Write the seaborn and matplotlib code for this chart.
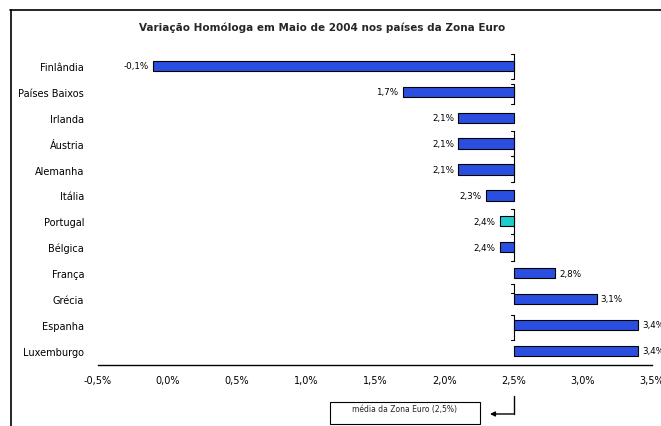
import matplotlib
matplotlib.use('Agg')
import matplotlib.pyplot as plt
import seaborn as sns
from matplotlib.lines import Line2D
from matplotlib.patches import Rectangle

countries = ['Finlândia', 'Países Baixos', 'Irlanda', 'Áustria', 'Alemanha', 'Itália',
             'Portugal', 'Bélgica', 'França', 'Grécia', 'Espanha', 'Luxemburgo']
values = [-0.1, 1.7, 2.1, 2.1, 2.1, 2.3, 2.4, 2.4, 2.8, 3.1, 3.4, 3.4]
euro_avg = 2.5
ticks = [-0.5, 0.0, 0.5, 1.0, 1.5, 2.0, 2.5, 3.0, 3.5]

sns.set_style('white')
plt.rcParams['font.family'] = ['DejaVu Sans']

fig = plt.figure(figsize=(6.61, 4.27), dpi=100)
ax = fig.add_axes([98 / 661, 1 - 366 / 427, 554 / 661, 312 / 427])

diffs = [v - euro_avg for v in values]
colors = ['#1fcccc' if c == 'Portugal' else '#2a4fe0' for c in countries]
sns.barplot(x=diffs, y=countries, hue=countries, palette=colors, legend=False,
            saturation=1, orient='h', width=0.4, edgecolor='black', linewidth=0.8,
            ax=ax, zorder=3)
# move bars so that they start at the euro zone average
for p in ax.patches:
    p.set_x(p.get_x() + euro_avg)

# bracket segments on the average line
segs = [(-0.46, 0.5), (0.7, 1.47), (2.52, 3.49), (3.49, 4.49), (5.54, 6.5),
        (6.5, 7.55), (8.44, 8.75), (9.6, 10.57)]
for a, b in segs:
    ax.plot([euro_avg, euro_avg], [a, b], color='black', lw=0.8, zorder=2)
    ax.plot([euro_avg - 0.02, euro_avg], [a, a], color='black', lw=0.8, zorder=2)
    ax.plot([euro_avg - 0.02, euro_avg], [b, b], color='black', lw=0.8, zorder=2)

for i, v in enumerate(values):
    lab = f'{v:.1f}%'.replace('.', ',')
    if v < euro_avg:
        ax.text(v - 0.03, i, lab, ha='right', va='center', fontsize=6.3, color='black')
    else:
        ax.text(v + 0.03, i, lab, ha='left', va='center', fontsize=6.3, color='black',
                clip_on=False)

ax.set_xlim(-0.5, 3.5)
ax.set_ylim(11.55, -0.5)
ax.set_xticks(ticks)
ax.set_xticklabels([f'{t:.1f}%'.replace('.', ',') for t in ticks], fontsize=7)
ax.tick_params(axis='x', direction='in', length=3, width=0.8, pad=7, colors='black')
ax.tick_params(axis='y', length=0, pad=10, labelsize=7, labelcolor='black')
ax.set_xlabel('')
ax.set_ylabel('')
for s in ['left', 'right', 'top']:
    ax.spines[s].set_visible(False)
ax.spines['bottom'].set_color('black')
ax.spines['bottom'].set_linewidth(1.0)

fig.text(0.487, 1 - 28 / 427, 'Variação Homóloga em Maio de 2004 nos países da Zona Euro',
         ha='center', va='center', fontsize=7.5, fontweight='bold')

# outer frame
fig.add_artist(Line2D([10 / 661, 1], [1 - 11 / 427, 1 - 11 / 427], color='black', lw=1.2))
fig.add_artist(Line2D([11 / 661, 11 / 661], [0, 1 - 11 / 427], color='black', lw=1.2))

# average annotation
tr = ax.get_xaxis_transform()
ax.plot([euro_avg, euro_avg], [-0.099, -0.157], color='black', lw=1.0,
        transform=tr, clip_on=False)
ax.annotate('', xy=(2.33, -0.157), xycoords=tr, xytext=(euro_avg, -0.157), textcoords=tr,
            arrowprops=dict(arrowstyle='-|>', color='black', lw=1.0, mutation_scale=7,
                            shrinkA=0, shrinkB=0))
fig.add_artist(Rectangle((330 / 661, 1 - 425 / 427), 150 / 661, 22 / 427,
                         transform=fig.transFigure, fill=False, edgecolor='black', lw=0.8))
fig.text(405 / 661, 1 - 410 / 427, 'média da Zona Euro (2,5%)', ha='center', va='center',
         fontsize=5.5)

fig.savefig('out.png', dpi=100)
